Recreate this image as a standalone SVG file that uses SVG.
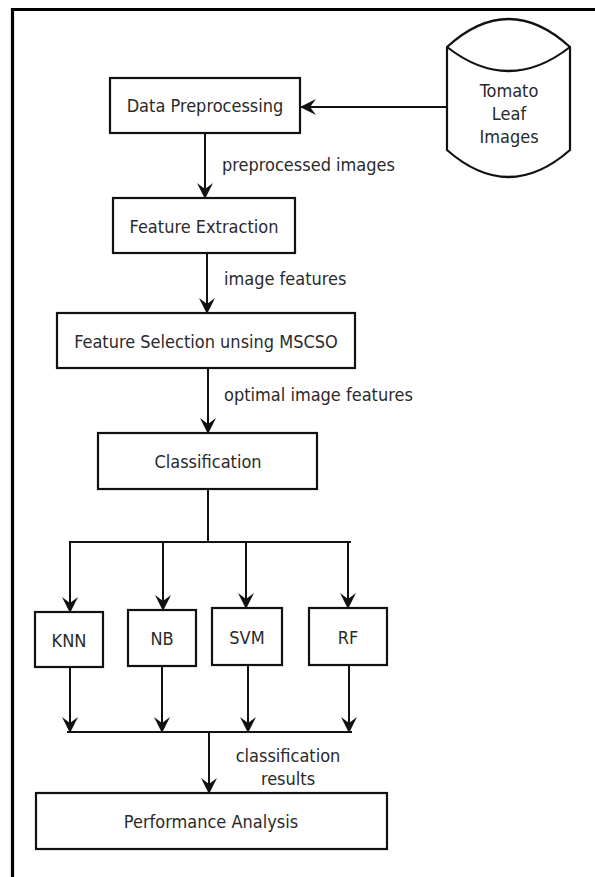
<svg xmlns="http://www.w3.org/2000/svg" width="595" height="877" viewBox="0 0 595 877">
<style>
.box{fill:#fff;stroke:#111;stroke-width:2.2}
.t{font-family:"DejaVu Sans Condensed","DejaVu Sans",sans-serif;font-stretch:condensed;font-size:18px;fill:#2a2a2a;text-anchor:middle}
.l{font-family:"DejaVu Sans Condensed","DejaVu Sans",sans-serif;font-stretch:condensed;font-size:18px;fill:#2a2a2a}
.c{fill:none;stroke:#111;stroke-width:2}
.ca{fill:none;stroke:#111;stroke-width:2;marker-end:url(#ah)}
</style>
<defs>
<marker id="ah" viewBox="0 0 16 16" refX="15" refY="8" markerWidth="16" markerHeight="16" markerUnits="userSpaceOnUse" orient="auto">
<path d="M0,0 L16,8 L0,16 L6,8 Z" fill="#111"/>
</marker>
</defs>
<rect width="595" height="877" fill="#fff"/>
<path d="M12.5,877 V9.5 H595" fill="none" stroke="#000" stroke-width="3.2"/>

<g id="connectors">
<path class="ca" d="M447,107 H301"/>
<path class="ca" d="M205,133 V198"/>
<path class="ca" d="M207,253 V313"/>
<path class="ca" d="M208,368 V433"/>
<path class="c" d="M208,489 V542 M69,542 H351"/>
<path class="ca" d="M70,542 V612"/>
<path class="ca" d="M163,542 V610"/>
<path class="ca" d="M246,542 V608"/>
<path class="ca" d="M348,542 V608"/>
<path class="ca" d="M70,667 V732"/>
<path class="ca" d="M162,666 V732"/>
<path class="ca" d="M248,665 V732"/>
<path class="ca" d="M349,665 V732"/>
<path class="c" d="M67,732 H352"/>
<path class="ca" d="M209,732 V793"/>
<text class="l" x="222" y="171">preprocessed images</text>
<text class="l" x="224" y="285">image features</text>
<text class="l" x="224" y="401">optimal image features</text>
<text class="t" x="288" y="762">classification</text>
<text class="t" x="288" y="785">results</text>
</g>

<g id="tomato-leaf-images">
<path d="M447,47 Q508.5,-9 570,47 V150 Q508.5,204 447,150 Z" fill="#fff" stroke="#111" stroke-width="2.2"/>
<path d="M447,47 Q508.5,95 570,47" fill="none" stroke="#111" stroke-width="2.2"/>
<text class="t" x="509" y="97">Tomato</text>
<text class="t" x="509" y="120">Leaf</text>
<text class="t" x="509" y="143">Images</text>
</g>

<g id="data-preprocessing">
<rect class="box" x="110" y="78" width="190" height="55"/>
<text class="t" x="205" y="112">Data Preprocessing</text>
</g>

<g id="feature-extraction">
<rect class="box" x="113" y="198" width="182" height="55"/>
<text class="t" x="204" y="233">Feature Extraction</text>
</g>

<g id="feature-selection">
<rect class="box" x="57" y="313" width="298" height="55"/>
<text class="t" x="206" y="348">Feature Selection unsing MSCSO</text>
</g>

<g id="classification">
<rect class="box" x="98" y="433" width="219" height="56"/>
<text class="t" x="208" y="468">Classification</text>
</g>

<g id="knn">
<rect class="box" x="35" y="612" width="68" height="55"/>
<text class="t" x="69" y="647">KNN</text>
</g>

<g id="nb">
<rect class="box" x="128" y="610" width="68" height="56"/>
<text class="t" x="162" y="645">NB</text>
</g>

<g id="svm">
<rect class="box" x="212" y="608" width="70" height="57"/>
<text class="t" x="247" y="644">SVM</text>
</g>

<g id="rf">
<rect class="box" x="309" y="608" width="78" height="57"/>
<text class="t" x="348" y="644">RF</text>
</g>

<g id="performance-analysis">
<rect class="box" x="36" y="793" width="351" height="56"/>
<text class="t" x="211" y="828">Performance Analysis</text>
</g>
</svg>
